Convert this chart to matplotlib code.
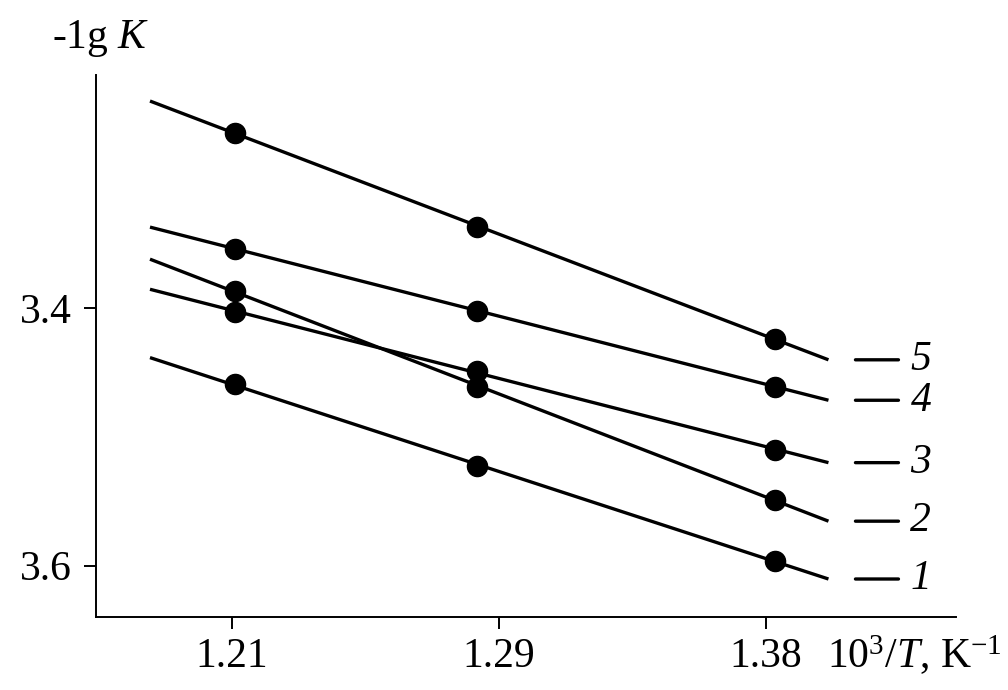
import numpy as np
import matplotlib
matplotlib.use('Agg')
import matplotlib.pyplot as plt
from matplotlib.transforms import offset_copy

plt.rcParams['font.family'] = ['Liberation Serif', 'DejaVu Serif']
plt.rcParams['mathtext.fontset'] = 'custom'
plt.rcParams['mathtext.rm'] = 'Liberation Serif'
plt.rcParams['mathtext.it'] = 'Liberation Serif:italic'

# 10^3/T for the three temperatures
inv_t = [1.211, 1.288, 1.383]
tick_pos = [1.21, 1.295, 1.38]
tick_labels = ['1.21', '1.29', '1.38']

# -lg K per curve
curve_1 = [3.459, 3.523, 3.596]
curve_2 = [3.387, 3.461, 3.549]
curve_3 = [3.403, 3.449, 3.510]
curve_4 = [3.354, 3.402, 3.461]
curve_5 = [3.264, 3.337, 3.424]
curves = [curve_1, curve_2, curve_3, curve_4, curve_5]
curve_names = ['1', '2', '3', '4', '5']

line_span = np.array([1.184, 1.40])
fs = 30

fig = plt.figure(figsize=(10.08, 6.9), dpi=100)
ax = fig.add_axes([0.0949, 0.1058, 0.8535, 0.7855])

dash_a = offset_copy(ax.transData, fig=fig, x=27, y=0, units='dots')
dash_b = offset_copy(ax.transData, fig=fig, x=70, y=0, units='dots')

for vals, name in zip(curves, curve_names):
    k, b = np.polyfit(inv_t, vals, 1)
    ax.plot(line_span, k * line_span + b, color='k', lw=2.4, solid_capstyle='butt')
    ax.plot(inv_t, vals, 'o', color='k', ms=14.5)
    end = (line_span[-1], k * line_span[-1] + b)
    # short dash + italic curve number to the right of the line end
    ax.annotate('', xy=end, xycoords=dash_b, xytext=end, textcoords=dash_a,
                arrowprops=dict(arrowstyle='-', lw=2.4, color='k',
                                shrinkA=0, shrinkB=0),
                annotation_clip=False)
    ax.annotate(name, end, xytext=(82, 0), textcoords='offset pixels',
                ha='left', va='center', fontsize=fs, style='italic',
                annotation_clip=False)

ax.set_xlim(1.1667, 1.4406)
ax.set_ylim(3.6398, 3.2192)
ax.set_xticks(tick_pos)
ax.set_xticklabels(tick_labels)
ax.set_yticks([3.4, 3.6])
ax.set_yticklabels(['3.4', '3.6'])
for s in ['top', 'right']:
    ax.spines[s].set_visible(False)
for s in ['left', 'bottom']:
    ax.spines[s].set_linewidth(1.4)
ax.tick_params(direction='out', length=8.5, width=1.4, labelsize=fs)
ax.tick_params(axis='y', pad=9)
ax.tick_params(axis='x', pad=6)

fig.text(52 / 1008, 1 - 48 / 690, '-1g $K$', fontsize=fs, ha='left', va='baseline')
fig.text(827 / 1008, 1 - 668 / 690, r'10$^3$/$T$, K$^{-1}$', fontsize=fs,
         ha='left', va='baseline')

fig.savefig('out.png', dpi=100)
